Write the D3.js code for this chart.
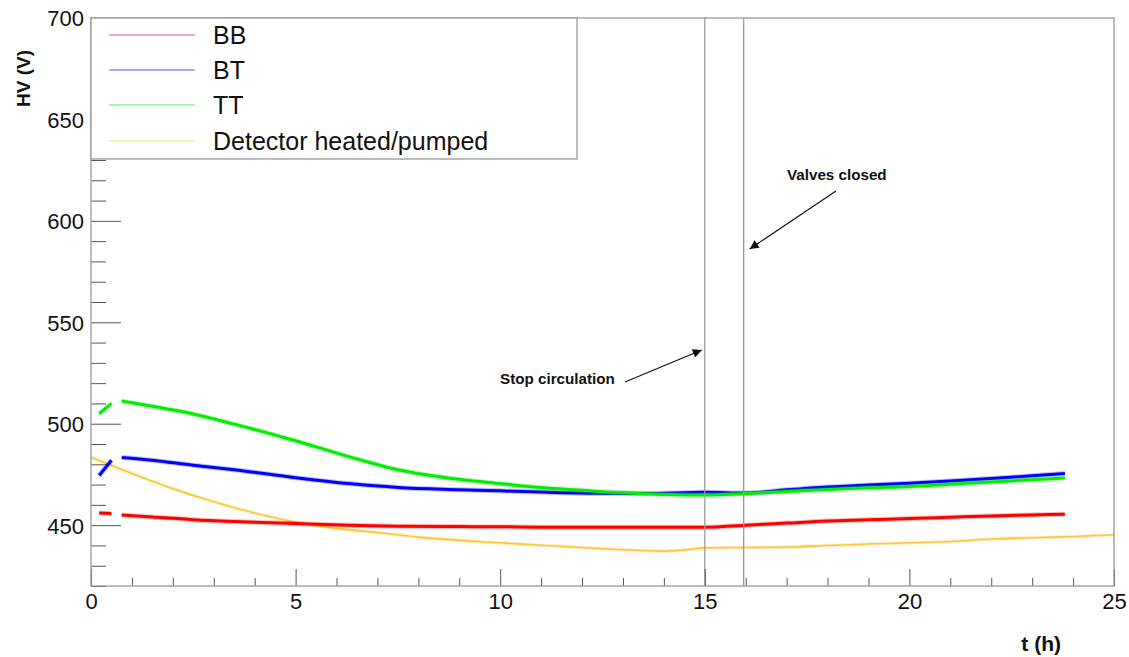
<!DOCTYPE html>
<html>
<head>
<meta charset="utf-8">
<script src="https://cdn.jsdelivr.net/npm/d3@7"></script>
<style>
  html, body { margin: 0; padding: 0; background: #fff; }
  svg { display: block; font-family: "Liberation Sans", Arial, Helvetica, sans-serif; }
</style>
</head>
<body>
<svg id="chart" width="1129" height="657"></svg>
<script>
// ---- Data ----
const seriesNames = ["BB", "BT", "TT", "Detector heated/pumped"];
const seriesColors = ["#ff0000", "#0000ff", "#00ee00", "#ffc533"];

// time axis (hours) for the three HV channels; null value = gap in data
const tHV = [0.2, 0.5, 0.6, 0.75, 1.5, 2.5, 3.5, 5, 6.3, 7.5, 9, 10, 11, 12.4, 13.5, 15, 16, 17, 18, 19, 20, 21, 22, 23, 23.8];
const valBB = [456, 455.8, null, 455, 454, 452.7, 451.8, 450.8, 450, 449.5, 449.3, 449.2, 449.0, 448.9, 448.9, 449.0, 450, 451, 452, 452.6, 453.3, 453.9, 454.5, 455, 455.4];
const valBT = [474.5, 482, null, 483.4, 482, 479.5, 477.3, 473.4, 470.5, 468.6, 467.5, 466.9, 466.3, 465.7, 465.6, 466.2, 465.8, 467.4, 468.8, 469.8, 470.7, 471.8, 473, 474.3, 475.4];
const valTT = [505, 510, null, 511.2, 508.6, 504.8, 499.8, 491.6, 483.8, 477.3, 472.6, 470.5, 468.5, 466.6, 465.5, 464.8, 465.6, 466.6, 467.6, 468.4, 469.1, 470.2, 471.3, 472.4, 473.2];

// reference curve
const tDet = [0, 1, 2, 3, 4, 5, 6, 7, 8, 9, 10, 11, 12, 13, 14, 14.5, 15, 16, 17, 18, 19, 20, 21, 22, 23, 24, 25];
const valDet = [483.5, 475.5, 468, 461.5, 456, 451.5, 448.4, 446.4, 444.1, 442.5, 441.3, 440.1, 439, 437.9, 437.2, 437.8, 438.8, 439, 439.2, 440, 440.7, 441.3, 441.9, 443.2, 443.8, 444.4, 445.3];

// event markers
const eventTimes = [15, 15.95];
const eventLabels = ["Stop circulation", "Valves closed"];

const xTicksMajor = [0, 5, 10, 15, 20, 25];
const yTicksMajor = [450, 500, 550, 600, 650, 700];

// ---- Layout ----
const W = 1129, H = 657;
const m = { left: 91, top: 18, right: 15, bottom: 71 };
const pw = W - m.left - m.right, ph = H - m.top - m.bottom;

const svg = d3.select("#chart");
const x = d3.scaleLinear().domain([0, 25]).range([m.left, m.left + pw]);
const y = d3.scaleLinear().domain([420, 700]).range([m.top + ph, m.top]);

const frameColor = "#999";

// ---- Data lines ----
const g = svg.append("g");
function drawSeries(ts, vs, color, width) {
  const data = ts.map((t, i) => ({ t, v: vs[i] }));
  const line = d3.line()
    .defined(d => d.v !== null)
    .x(d => x(d.t)).y(d => y(d.v))
    .curve(d3.curveMonotoneX);
  g.append("path").datum(data)
    .attr("d", line).attr("fill", "none")
    .attr("stroke", color).attr("stroke-width", width + 2).attr("stroke-opacity", 0.25);
  g.append("path").datum(data)
    .attr("d", line).attr("fill", "none")
    .attr("stroke", color).attr("stroke-width", width);
}
drawSeries(tDet, valDet, seriesColors[3], 1.6);
drawSeries(tHV, valBB, seriesColors[0], 3);
drawSeries(tHV, valBT, seriesColors[1], 3);
drawSeries(tHV, valTT, seriesColors[2], 3);

// ---- Event lines ----
eventTimes.forEach(t => {
  svg.append("line")
    .attr("x1", x(t)).attr("x2", x(t))
    .attr("y1", m.top).attr("y2", m.top + ph)
    .attr("stroke", "#9a9a9a").attr("stroke-width", 1.3);
});

// ---- Axes (ROOT style: ticks inside) ----
const xAxis = d3.axisBottom(x)
  .tickValues(d3.range(0, 25.001, 1))
  .tickSize(0).tickFormat("");
const xa = svg.append("g").attr("transform", `translate(0,${m.top + ph})`).call(xAxis);
xa.select(".domain").remove();
xa.selectAll(".tick").each(function(d) {
  const major = xTicksMajor.includes(d);
  d3.select(this).append("line")
    .attr("y1", 0).attr("y2", major ? -17 : -8)
    .attr("stroke", "#555").attr("stroke-width", 1);
  if (major) {
    d3.select(this).append("text")
      .attr("y", 23).attr("text-anchor", "middle")
      .attr("font-size", 22).attr("fill", "#111")
      .text(d);
  }
});

const yAxis = d3.axisLeft(y)
  .tickValues(d3.range(420, 700.001, 10))
  .tickSize(0).tickFormat("");
const ya = svg.append("g").attr("transform", `translate(${m.left},0)`).call(yAxis);
ya.select(".domain").remove();
ya.selectAll(".tick").each(function(d) {
  const major = yTicksMajor.includes(d);
  d3.select(this).append("line")
    .attr("x1", 0).attr("x2", major ? 30 : 15)
    .attr("stroke", "#555").attr("stroke-width", 1);
  if (major) {
    d3.select(this).append("text")
      .attr("x", -7).attr("dy", "0.36em").attr("text-anchor", "end")
      .attr("font-size", 22).attr("fill", "#111")
      .text(d);
  }
});

// frame
svg.append("rect")
  .attr("x", m.left).attr("y", m.top).attr("width", pw).attr("height", ph)
  .attr("fill", "none").attr("stroke", frameColor).attr("stroke-width", 1.3);

// axis titles
svg.append("text")
  .attr("x", 1061).attr("y", 651).attr("text-anchor", "end")
  .attr("font-size", 21).attr("font-weight", "bold").attr("fill", "#111")
  .text("t (h)");
svg.append("text")
  .attr("transform", `translate(30,50) rotate(-90)`)
  .attr("text-anchor", "end")
  .attr("font-size", 19).attr("font-weight", "bold").attr("fill", "#111")
  .text("HV (V)");

// ---- Legend ----
const lg = svg.append("g");
lg.append("rect")
  .attr("x", m.left).attr("y", m.top).attr("width", 486).attr("height", 141)
  .attr("fill", "#fff").attr("stroke", frameColor).attr("stroke-width", 1.3);
const legendY = [35, 70, 105, 141];
seriesNames.forEach((name, i) => {
  lg.append("line")
    .attr("x1", 109).attr("x2", 195)
    .attr("y1", legendY[i]).attr("y2", legendY[i])
    .attr("stroke", seriesColors[i]).attr("stroke-opacity", 0.45).attr("stroke-width", 1.5);
  lg.append("text")
    .attr("x", 213).attr("y", legendY[i]).attr("dy", "0.36em")
    .attr("font-size", 25).attr("fill", "#111")
    .text(name);
});

// ---- Annotations ----
const defs = svg.append("defs");
defs.append("marker")
  .attr("id", "arrow").attr("viewBox", "0 0 10 10")
  .attr("refX", 10).attr("refY", 5)
  .attr("markerWidth", 13).attr("markerHeight", 9)
  .attr("markerUnits", "userSpaceOnUse")
  .attr("orient", "auto")
  .append("path").attr("d", "M0,0 L10,5 L0,10 Z").attr("fill", "#111");

svg.append("text")
  .attr("x", 500).attr("y", 384)
  .attr("font-size", 15.2).attr("font-weight", "bold").attr("fill", "#111")
  .text(eventLabels[0]);
svg.append("line")
  .attr("x1", 625).attr("y1", 382).attr("x2", x(eventTimes[0]) - 3).attr("y2", 350)
  .attr("stroke", "#111").attr("stroke-width", 1.2).attr("marker-end", "url(#arrow)");

svg.append("text")
  .attr("x", 787).attr("y", 180)
  .attr("font-size", 15.2).attr("font-weight", "bold").attr("fill", "#111")
  .text(eventLabels[1]);
svg.append("line")
  .attr("x1", 836).attr("y1", 191).attr("x2", x(eventTimes[1]) + 6).attr("y2", 249)
  .attr("stroke", "#111").attr("stroke-width", 1.2).attr("marker-end", "url(#arrow)");
</script>
</body>
</html>
